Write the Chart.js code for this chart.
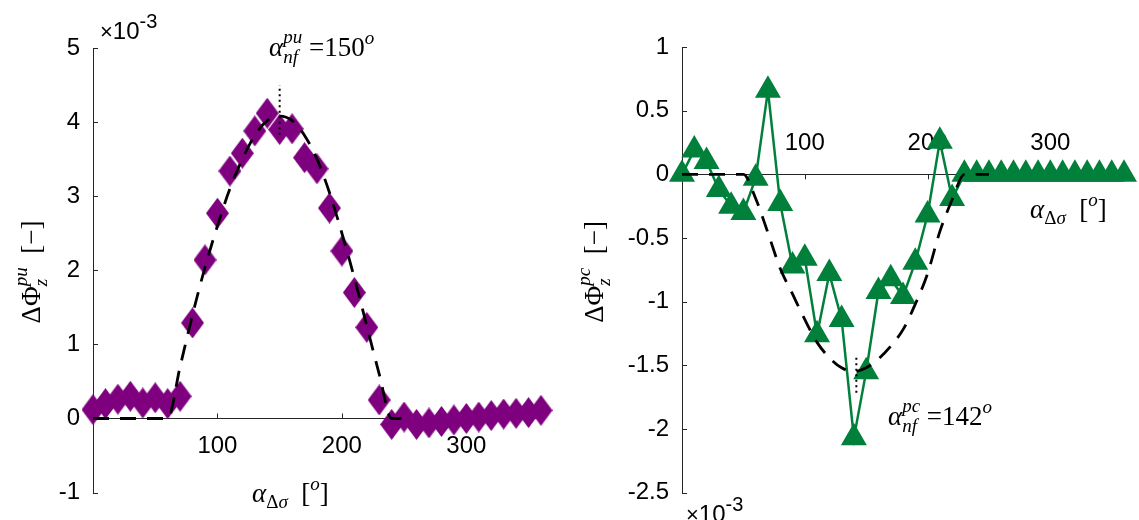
<!DOCTYPE html>
<html>
<head>
<meta charset="utf-8">
<script src="https://cdn.jsdelivr.net/npm/chart.js@4.4.1/dist/chart.umd.min.js"></script>
<style>
  html, body { margin: 0; padding: 0; background: #fff; }
  #wrap { position: relative; width: 1139px; height: 520px; overflow: hidden; }
  canvas { position: absolute; top: 0; }
  #left { left: 0; }
  #right { left: 570px; }
</style>
</head>
<body>
<div id="wrap">
  <canvas id="left" width="570" height="520"></canvas>
  <canvas id="right" width="569" height="520"></canvas>
</div>
<script>
// load angle, degrees
const angles = [0, 10, 20, 30, 40, 50, 60, 70, 80, 90, 100, 110, 120, 130, 140, 150, 160, 170, 180,
  190, 200, 210, 220, 230, 240, 250, 260, 270, 280, 290, 300, 310, 320, 330, 340, 350, 360];

// left panel, dPhi_z^pu (x 1e-3)
const puValues = [0.12, 0.20, 0.26, 0.30, 0.21, 0.28, 0.20, 0.30, 1.29, 2.14, 2.77, 3.34, 3.58, 3.88, 4.12,
  3.90, 3.91, 3.52, 3.37, 2.84, 2.26, 1.70, 1.23, 0.25, -0.08, 0.02, -0.08, -0.06, -0.04, -0.02,
  0.00, 0.02, 0.04, 0.06, 0.07, 0.08, 0.11];

// right panel, dPhi_z^pc (x 1e-3)
const pcValues = [0.00, 0.19, 0.10, -0.12, -0.25, -0.30, -0.03, 0.66, -0.23, -0.72, -0.66, -1.26, -0.78,
  -1.14, -2.07, -1.55, -0.92, -0.82, -0.96, -0.69, -0.32, 0.26, -0.19, 0, 0, 0, 0, 0, 0, 0, 0, 0, 0,
  0, 0, 0, 0];

// fitted curves (dashed)
const fitAngles = [0, 10, 20, 30, 40, 50, 60, 70, 80, 90, 100, 110, 120, 130, 140, 150, 160, 170, 180,
  190, 200, 210, 220, 230, 240, 250];
const puFit = [0, 0, 0, 0, 0, 0, 0, 0.70, 1.40, 2.04, 2.60, 3.10, 3.50, 3.82, 4.02, 4.08, 4.02, 3.82,
  3.50, 3.05, 2.50, 1.90, 1.25, 0.60, 0, 0];
const pcFit = [0, 0, 0, 0, 0, 0, -0.19, -0.46, -0.74, -0.94, -1.14, -1.32, -1.44, -1.52, -1.55, -1.52,
  -1.45, -1.35, -1.22, -1.02, -0.78, -0.45, -0.20, 0, 0, 0];

// neutral-fibre angle markers
const puPeak = 150;
const puPeakSpan = [3.83, 4.50];
const pcPeak = 142;
const pcPeakSpan = [-1.44, -1.72];

const xTicks = [100, 200, 300];
const puYTicks = [-1, 0, 1, 2, 3, 4, 5];
const pcYTicks = [-2.5, -2, -1.5, -1, -0.5, 0, 0.5, 1];

const axisColor = '#262626';
const purple = '#7f007f';
const green = '#00803a';

const pts = (xs, ys) => xs.map((x, i) => ({ x: x, y: ys[i] }));

function diamond(w, h, color) {
  const c = document.createElement('canvas');
  c.width = w; c.height = h;
  const g = c.getContext('2d');
  g.fillStyle = color;
  g.beginPath();
  g.moveTo(w / 2, 0); g.lineTo(w, h / 2); g.lineTo(w / 2, h); g.lineTo(0, h / 2);
  g.closePath();
  g.fill();
  return c;
}

// little rich-text helper for the latex-ish labels
const it = (t, s, dy) => ({ t: t, font: 'italic ' + s + 'px "Liberation Serif", serif', dy: dy || 0 });
const up = (t, s, dy) => ({ t: t, font: s + 'px "Liberation Serif", serif', dy: dy || 0 });
const sans = (t, s, dy) => ({ t: t, font: s + 'px "Liberation Sans", Arial, sans-serif', dy: dy || 0 });

function richWidth(ctx, parts) {
  let w = 0;
  parts.forEach(p => {
    let adv = 0;
    (Array.isArray(p) ? p : [p]).forEach(q => {
      ctx.font = q.font;
      adv = Math.max(adv, ctx.measureText(q.t).width);
    });
    w += adv;
  });
  return w;
}

function drawRich(ctx, x, y, parts) {
  let cx = x;
  parts.forEach(p => {
    let adv = 0;
    (Array.isArray(p) ? p : [p]).forEach(q => {
      ctx.font = q.font;
      ctx.fillText(q.t, cx, y + q.dy);
      adv = Math.max(adv, ctx.measureText(q.t).width);
    });
    cx += adv;
  });
}

function panelPlugin(tickDir, texts) {
  return {
    id: 'panelText',
    beforeDatasetsDraw(chart) {
      const ctx = chart.ctx, xs = chart.scales.x, ys = chart.scales.y;
      const x0 = xs.getPixelForValue(0), y0 = ys.getPixelForValue(0);
      ctx.save();
      ctx.strokeStyle = axisColor;
      ctx.lineWidth = 1;
      ctx.beginPath();
      ys.ticks.forEach(t => {
        const py = Math.round(ys.getPixelForValue(t.value)) + 0.5;
        ctx.moveTo(x0, py); ctx.lineTo(x0 + 5, py);
      });
      xs.ticks.forEach(t => {
        const px = Math.round(xs.getPixelForValue(t.value)) + 0.5;
        ctx.moveTo(px, y0); ctx.lineTo(px, y0 + tickDir * 5);
      });
      ctx.stroke();
      ctx.restore();
    },
    afterDraw(chart) {
      const ctx = chart.ctx;
      ctx.save();
      ctx.fillStyle = '#000';
      ctx.textAlign = 'left';
      ctx.textBaseline = 'alphabetic';
      texts.forEach(tx => {
        if (tx.rotate) {
          ctx.save();
          ctx.translate(tx.x, tx.y);
          ctx.rotate(-Math.PI / 2);
          drawRich(ctx, -richWidth(ctx, tx.parts) / 2, 0, tx.parts);
          ctx.restore();
        } else {
          drawRich(ctx, tx.x, tx.y, tx.parts);
        }
      });
      ctx.restore();
    }
  };
}

// y axis sits on the left edge of the plot (x = 0), x axis crosses at y = 0
function scales(yTicks, yMin, yMax, xPad, axisLeft) {
  const tickFont = { family: '"Liberation Sans", Arial, sans-serif', size: 24 };
  return {
    x: {
      type: 'linear', min: 0, max: 360,
      position: { y: 0 },
      afterBuildTicks: s => { s.ticks = xTicks.map(v => ({ value: v })); },
      grid: { display: false, drawTicks: false },
      border: { display: true, color: axisColor, width: 1 },
      ticks: { color: '#000', font: tickFont, padding: xPad, maxRotation: 0, autoSkip: false,
        callback: v => String(v) }
    },
    y: {
      type: 'linear', min: yMin, max: yMax,
      position: 'left',
      afterFit: s => { s.width = axisLeft; },
      afterBuildTicks: s => { s.ticks = yTicks.map(v => ({ value: v })); },
      grid: { display: false, drawTicks: false },
      border: { display: true, color: axisColor, width: 1 },
      ticks: { color: '#000', font: tickFont, padding: 13, autoSkip: false,
        callback: v => String(v) }
    }
  };
}

const commonOpts = {
  responsive: false,
  animation: false,
  events: [],
  plugins: { legend: { display: false }, tooltip: { enabled: false } }
};

// left: pu
new Chart(document.getElementById('left'), {
  type: 'line',
  data: {
    datasets: [
      {
        data: pts(fitAngles, puFit),
        borderColor: '#000', borderWidth: 2.8, borderDash: [16, 11],
        pointRadius: 0, cubicInterpolationMode: 'monotone', order: 0, clip: false
      },
      {
        data: [{ x: puPeak, y: puPeakSpan[0] }, { x: puPeak, y: puPeakSpan[1] }],
        borderColor: '#000', borderWidth: 2, borderDash: [2, 3.5],
        pointRadius: 0, order: 1, clip: false
      },
      {
        data: pts(angles, puValues),
        showLine: false,
        pointStyle: diamond(23, 31, purple), pointRadius: 12,
        order: 2, clip: false
      }
    ]
  },
  options: Object.assign({}, commonOpts, {
    layout: { padding: { left: 0, right: 29, top: 48, bottom: 25 } },
    scales: scales(puYTicks, -1, 5, 13, 93)
  }),
  plugins: [panelPlugin(-1, [
    { x: 269, y: 56, parts: [it('α', 27), [it('pu', 19, -13), it('nf', 19, 7)], up(' =150', 27), it('o', 19, -12)] },
    { x: 252, y: 502, parts: [it('α', 27), up('Δ', 19, 6), it('σ', 19, 6), up('  [', 27), it('o', 19, -12), up(']', 27)] },
    { x: 40, y: 272, rotate: true, parts: [up('ΔΦ', 27), [it('pu', 19, -13), it('z', 19, 7)], up('  [−]', 27)] },
    { x: 100, y: 39, parts: [sans('×', 22), sans('10', 24), sans('-3', 20, -11)] }
  ])]
});

// right: pc
new Chart(document.getElementById('right'), {
  type: 'line',
  data: {
    datasets: [
      {
        data: pts(fitAngles, pcFit),
        borderColor: '#000', borderWidth: 2.8, borderDash: [16, 11],
        pointRadius: 0, cubicInterpolationMode: 'monotone', order: 0, clip: false
      },
      {
        data: [{ x: pcPeak, y: pcPeakSpan[0] }, { x: pcPeak, y: pcPeakSpan[1] }],
        borderColor: '#000', borderWidth: 2, borderDash: [2, 3.5],
        pointRadius: 0, order: 1, clip: false
      },
      {
        data: pts(angles, pcValues),
        borderColor: green, borderWidth: 2.5,
        pointStyle: 'triangle', pointRadius: 15, pointBorderWidth: 0,
        pointBackgroundColor: green, order: 2, clip: false
      }
    ]
  },
  options: Object.assign({}, commonOpts, {
    layout: { padding: { left: 0, right: 9, top: 47, bottom: 24 } },
    scales: scales(pcYTicks, -2.5, 1, -45, 112)
  }),
  plugins: [panelPlugin(1, [
    { x: 318, y: 425, parts: [it('α', 27), [it('pc', 19, -13), it('nf', 19, 7)], up(' =142', 27), it('o', 19, -12)] },
    { x: 460, y: 218, parts: [it('α', 27), up('Δ', 19, 6), it('σ', 19, 6), up('  [', 27), it('o', 19, -12), up(']', 27)] },
    { x: 33, y: 272, rotate: true, parts: [up('ΔΦ', 27), [it('pc', 19, -13), it('z', 19, 7)], up('  [−]', 27)] },
    { x: 116, y: 522, parts: [sans('×', 22), sans('10', 24), sans('-3', 20, -11)] }
  ])]
});
</script>
</body>
</html>
